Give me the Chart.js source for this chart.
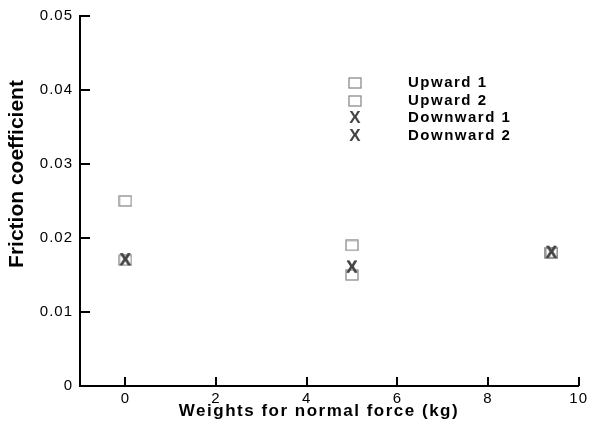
<!DOCTYPE html>
<html>
<head>
<meta charset="utf-8">
<script src="https://cdn.jsdelivr.net/npm/chart.js@4"></script>
<style>
  html, body { margin: 0; padding: 0; background: #fff; }
  #wrap { width: 591px; height: 423px; }
</style>
</head>
<body>
<div id="wrap"><canvas id="atrito"></canvas></div>
<script>
// dados
const pesos = [0, 5, 9.4];
const subida1 = [0.025, 0.019, 0.018];
const subida2 = [0.017, 0.015, 0.018];
const descida1 = [0.017, 0.016, 0.018];
const descida2 = [0.017, 0.016, 0.018];
const nomesSeries = ['Upward 1', 'Upward 2', 'Downward 1', 'Downward 2'];
const ticksX = [0, 2, 4, 6, 8, 10];
const ticksY = [0, 0.01, 0.02, 0.03, 0.04, 0.05];
const tituloX = 'Weights for normal force (kg)';
const tituloY = 'Friction coefficient';

const FONTE = '"Liberation Sans", Arial, sans-serif';

// marcador quadrado vazado
function marcaQuadrado() {
    const c = document.createElement('canvas');
    c.width = 14; c.height = 12;
    const g = c.getContext('2d');
    g.strokeStyle = '#8c8c8c';
    g.lineWidth = 1.3;
    g.strokeRect(1, 1, 12, 10);
    return c;
}

// marcador "X" em negrito
function marcaX() {
    const c = document.createElement('canvas');
    c.width = 16; c.height = 16;
    const g = c.getContext('2d');
    g.fillStyle = '#444';
    g.font = 'bold 17px ' + FONTE;
    g.textAlign = 'center';
    g.textBaseline = 'middle';
    g.fillText('X', 8, 8.5);
    return c;
}

const imgQuad = marcaQuadrado();
const imgX = marcaX();

function pontos(valores) {
    return pesos.map((p, i) => ({ x: p, y: valores[i] }));
}

// legenda desenhada dentro da área do gráfico
const legendaInterna = {
    id: 'legendaInterna',
    afterDraw(chart) {
        const ctx = chart.ctx;
        const linhas = [83, 101, 118, 136];
        const imgs = [imgQuad, imgQuad, imgX, imgX];
        ctx.save();
        ctx.letterSpacing = '1.5px';
        ctx.font = 'bold 15px ' + FONTE;
        ctx.fillStyle = '#000';
        ctx.textBaseline = 'middle';
        nomesSeries.forEach((nome, i) => {
            const im = imgs[i];
            ctx.drawImage(im, 355 - im.width / 2, linhas[i] - im.height / 2);
            ctx.fillText(nome, 408, linhas[i]);
        });
        ctx.restore();
    }
};

// ticks para dentro e títulos dos eixos
const eixos = {
    id: 'eixos',
    beforeDraw(chart) {
        chart.ctx.letterSpacing = '1px';
    },
    afterDraw(chart) {
        const ctx = chart.ctx;
        const a = chart.chartArea;
        const sx = chart.scales.x, sy = chart.scales.y;
        ctx.save();
        ctx.strokeStyle = '#000';
        ctx.lineWidth = 2;
        ctx.beginPath();
        ticksX.forEach(v => {
            const px = Math.round(sx.getPixelForValue(v));
            ctx.moveTo(px, a.bottom);
            ctx.lineTo(px, a.bottom - 9);
        });
        ticksY.forEach(v => {
            const py = Math.round(sy.getPixelForValue(v));
            ctx.moveTo(a.left, py);
            ctx.lineTo(a.left + 10, py);
        });
        ctx.stroke();

        ctx.fillStyle = '#000';
        ctx.textAlign = 'center';
        ctx.textBaseline = 'middle';
        ctx.letterSpacing = '1.5px';
        ctx.font = 'bold 17px ' + FONTE;
        ctx.fillText(tituloX, 319, 411);

        ctx.letterSpacing = '0px';
        ctx.translate(17, 174);
        ctx.rotate(-Math.PI / 2);
        ctx.font = 'bold 21px ' + FONTE;
        ctx.fillText(tituloY, 0, 0);
        ctx.restore();
    }
};

document.addEventListener('DOMContentLoaded', function() {
    const el = document.getElementById('atrito');
    const base = { showLine: false, pointRadius: 6, pointHoverRadius: 6 };

    new Chart(el, {
        type: 'scatter',
        data: {
            datasets: [
                Object.assign({ label: nomesSeries[0], data: pontos(subida1), pointStyle: imgQuad, order: 2 }, base),
                Object.assign({ label: nomesSeries[1], data: pontos(subida2), pointStyle: imgQuad, order: 3 }, base),
                Object.assign({ label: nomesSeries[2], data: pontos(descida1), pointStyle: imgX, order: 0 }, base),
                Object.assign({ label: nomesSeries[3], data: pontos(descida2), pointStyle: imgX, order: 1 }, base)
            ]
        },
        options: {
            responsive: true,
            maintainAspectRatio: false,
            animation: false,
            layout: { padding: { left: 0, right: 11, top: 14, bottom: 0 } },
            plugins: {
                legend: { display: false },
                tooltip: { enabled: false }
            },
            scales: {
                x: {
                    type: 'linear',
                    min: -1,
                    max: 10,
                    afterBuildTicks: s => { s.ticks = ticksX.map(v => ({ value: v })); },
                    afterFit: s => { s.height = 37; },
                    grid: { drawOnChartArea: false, drawTicks: false },
                    border: { display: true, color: '#000', width: 2 },
                    ticks: {
                        padding: 4,
                        color: '#000',
                        font: { family: FONTE, size: 15 },
                        maxRotation: 0
                    }
                },
                y: {
                    type: 'linear',
                    min: 0,
                    max: 0.05,
                    afterBuildTicks: s => { s.ticks = ticksY.map(v => ({ value: v })); },
                    afterFit: s => { s.width = 80; },
                    grid: { drawOnChartArea: false, drawTicks: false },
                    border: { display: true, color: '#000', width: 2 },
                    ticks: {
                        padding: 7,
                        color: '#000',
                        font: { family: FONTE, size: 15 },
                        callback: v => v === 0 ? '0' : v.toFixed(2)
                    }
                }
            }
        },
        plugins: [legendaInterna, eixos]
    });
});
</script>
</body>
</html>
